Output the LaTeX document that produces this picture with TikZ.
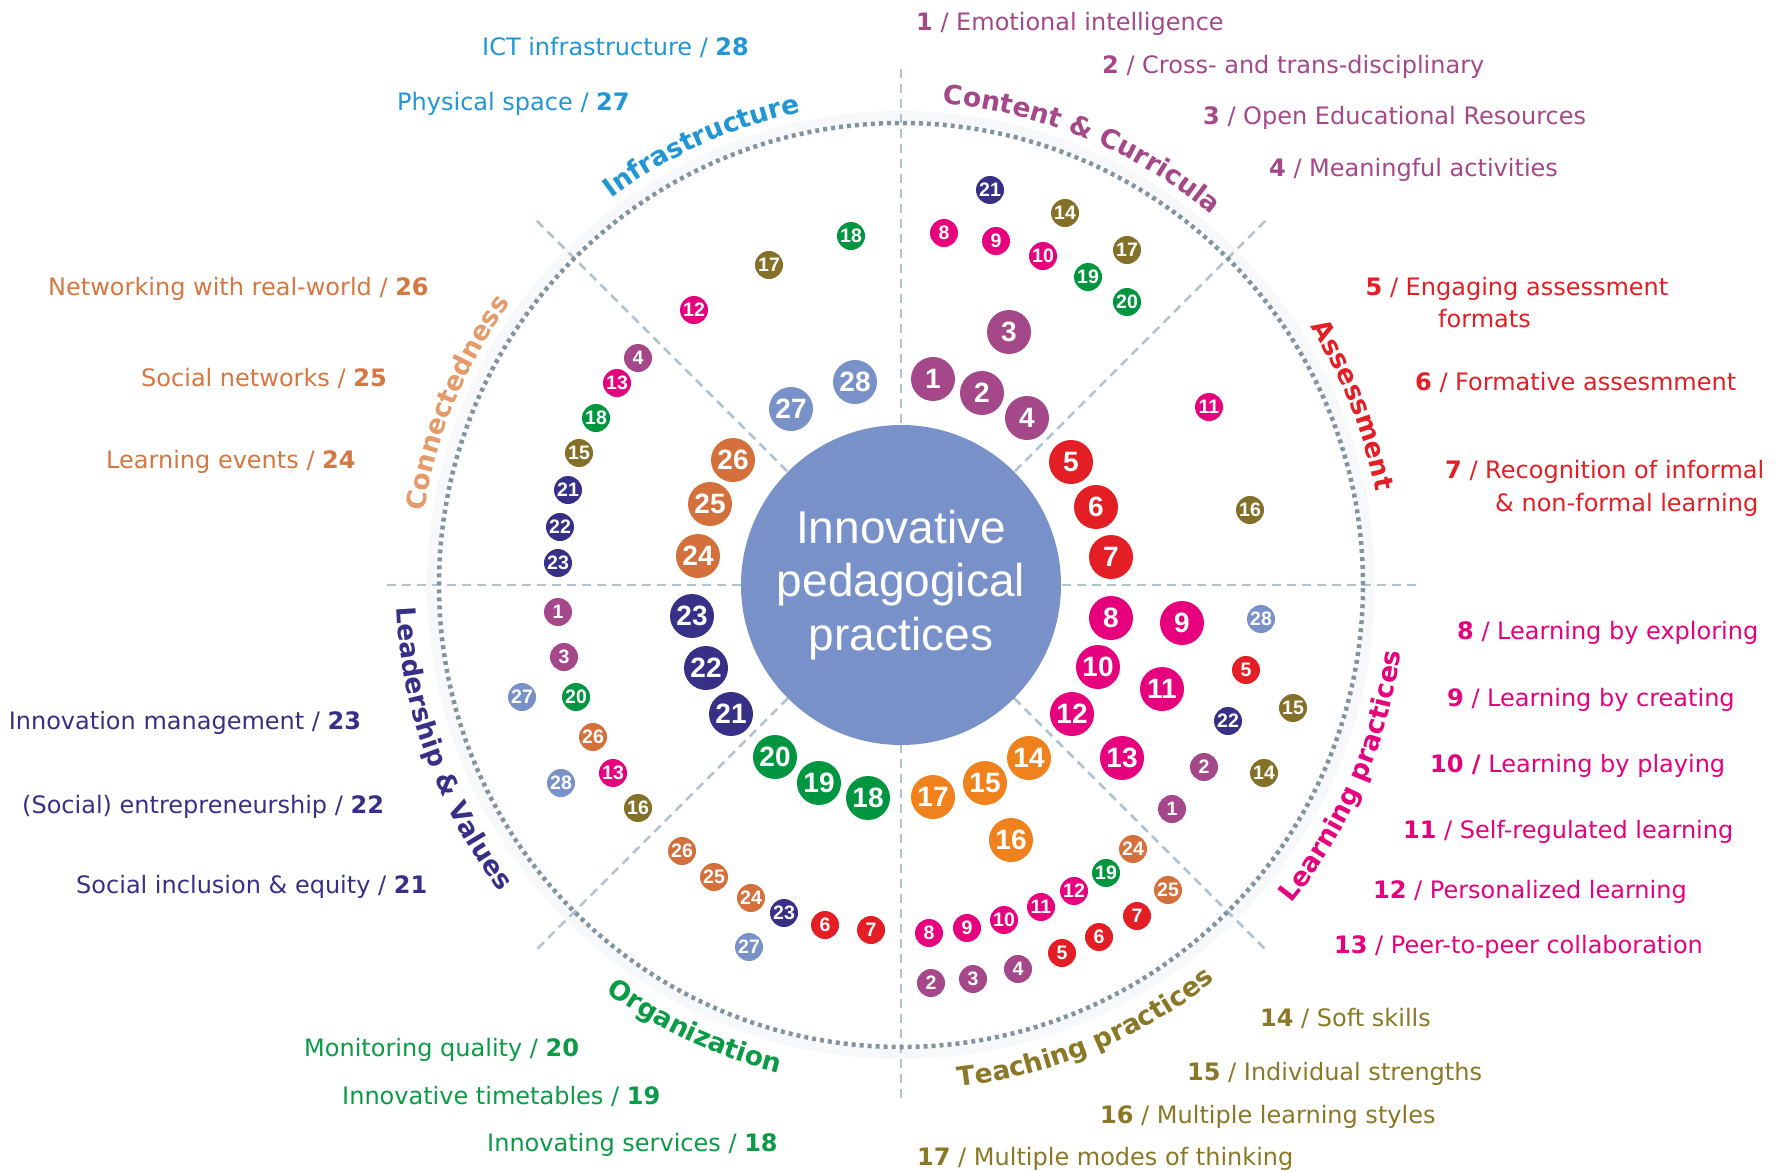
\documentclass[tikz,border=0pt]{standalone}
\usepackage{fontspec}
\setmainfont{DejaVu Sans}
\newfontfamily\numfont{Liberation Sans}
\newfontfamily\ctrfont{Liberation Sans}
\usetikzlibrary{decorations.text}

\definecolor{cInfra}{RGB}{32,150,212}
\definecolor{cConn}{RGB}{214,118,64}
\definecolor{cConnArc}{RGB}{228,155,105}
\definecolor{cCont}{RGB}{165,72,138}
\definecolor{cAss}{RGB}{227,30,36}
\definecolor{cLearn}{RGB}{230,0,126}
\definecolor{cTeach}{RGB}{138,120,38}
\definecolor{cOrg}{RGB}{10,155,70}
\definecolor{cLead}{RGB}{55,48,135}
\definecolor{cPeri}{RGB}{120,145,200}
\definecolor{cOrange}{RGB}{240,130,30}
\definecolor{cBrown}{RGB}{212,112,60}
\definecolor{cOlive}{RGB}{132,112,40}
\definecolor{cGreen}{RGB}{0,150,64}
\definecolor{cDots}{RGB}{128,148,162}
\definecolor{cSect}{RGB}{175,195,210}
\definecolor{cBand}{RGB}{247,248,249}

\newcommand\arcfont{\bfseries\fontsize{26.5}{26.5}\selectfont}

\tikzset{
  sm/.style={circle, inner sep=0pt, minimum size=28pt, text=white,
    font=\numfont\bfseries\fontsize{19.5}{19.5}\selectfont},
  lg/.style={circle, inner sep=0pt, minimum size=44pt, text=white,
    font=\numfont\bfseries\fontsize{28}{28}\selectfont},
  lbl/.style={anchor=base west, inner sep=0pt, font=\fontsize{24}{28}\selectfont},
  sectline/.style={draw=cSect, line width=2.5pt, dash pattern=on 9pt off 6pt},
}

\begin{document}
\begin{tikzpicture}[x=1pt,y=-1pt]
\useasboundingbox (0,0) rectangle (1783,1170);
\fill[white] (0,0) rectangle (1783,1170);

% faint band and sector lines
\draw[cBand, line width=10pt] (901,585) circle[radius=469pt];
\draw[sectline] (901,69) -- (901,1102);
\draw[sectline] (387,585) -- (1420,585);
\draw[sectline] (536.8,220.8) -- (1265.2,949.2);
\draw[sectline] (1265.2,220.8) -- (536.8,949.2);
% dotted circle
\draw[cDots, line width=4.5pt, dash pattern=on 4pt off 4pt] (901,585) circle[radius=462pt];

% centre
\node[circle, fill=cPeri, minimum size=320pt, inner sep=0pt, align=center, text=white,
  font=\ctrfont\fontsize{46}{53.5}\selectfont] (ctr) at (901,585) {Innovative\\pedagogical\\practices};

% sector titles along arcs
\begin{scope}[shift={(901,585)}, y=1pt]
\path[decorate, decoration={text along path, text align=center,
  text={|\arcfont\color{cInfra}|Infrastructure}}]
  (144.4:483) arc[start angle=144.4, end angle=84.4, radius=483pt];
\path[decorate, decoration={text along path, text align=center,
  text={|\arcfont\color{cCont}|Content {\&} Curricula}}]
  (97.5:483) arc[start angle=97.5, end angle=37.5, radius=483pt];
\path[decorate, decoration={text along path, text align=center,
  text={|\arcfont\color{cAss}|Assessment}}]
  (51.7:484) arc[start angle=51.7, end angle=-8.3, radius=484pt];
\path[decorate, decoration={text along path, text align=center,
  text={|\arcfont\color{cConnArc}|Connectedness}}]
  (187.7:482) arc[start angle=187.7, end angle=127.7, radius=482pt];
\path[decorate, decoration={text along path, text align=center,
  text={|\arcfont\color{cLead}|Leadership {\&} Values}}]
  (170:505) arc[start angle=170, end angle=230, radius=505pt];
\path[decorate, decoration={text along path, text align=center,
  text={|\arcfont\color{cOrg}|Organization}}]
  (215:503) arc[start angle=215, end angle=275, radius=503pt];
\path[decorate, decoration={text along path, text align=center,
  text={|\arcfont\color{cTeach}|Teaching practices}}]
  (262.5:505) arc[start angle=262.5, end angle=322.5, radius=505pt];
\path[decorate, decoration={text along path, text align=center,
  text={|\arcfont\color{cLearn}|Learning practices}}]
  (306.6:504) arc[start angle=306.6, end angle=366.6, radius=504pt];
\end{scope}

% Infrastructure sector
\node[sm, fill=cGreen] (i18) at (851,236) {18};
\node[sm, fill=cOlive] (i17) at (769,265) {17};
\node[sm, fill=cLearn] (i12) at (694,310) {12};
\node[lg, fill=cPeri] (i28) at (855,382) {28};
\node[lg, fill=cPeri] (i27) at (791,409) {27};

% Connectedness sector
\node[sm, fill=cCont] (c4) at (638,358) {4};
\node[sm, fill=cLearn] (c13) at (617,383) {13};
\node[sm, fill=cGreen] (c18) at (596,418) {18};
\node[sm, fill=cOlive] (c15) at (579,453) {15};
\node[sm, fill=cLead] (c21) at (568,490) {21};
\node[sm, fill=cLead] (c22) at (560,527) {22};
\node[sm, fill=cLead] (c23) at (558,563) {23};
\node[lg, fill=cBrown] (c26) at (733,460) {26};
\node[lg, fill=cBrown] (c25) at (710,504) {25};
\node[lg, fill=cBrown] (c24) at (698,556) {24};

% Content sector
\node[sm, fill=cLead] (k21) at (990,190) {21};
\node[sm, fill=cOlive] (k14) at (1065,213) {14};
\node[sm, fill=cLearn] (k8) at (944,233) {8};
\node[sm, fill=cLearn] (k9) at (996,241) {9};
\node[sm, fill=cLearn] (k10) at (1043,256) {10};
\node[sm, fill=cOlive] (k17) at (1127,250) {17};
\node[sm, fill=cGreen] (k19) at (1088,277) {19};
\node[sm, fill=cGreen] (k20) at (1127,302) {20};
\node[lg, fill=cCont] (k3) at (1009,332) {3};
\node[lg, fill=cCont] (k1) at (933,379) {1};
\node[lg, fill=cCont] (k2) at (982,393) {2};
\node[lg, fill=cCont] (k4) at (1027,418) {4};

% Assessment sector
\node[lg, fill=cAss] (a5) at (1071,462) {5};
\node[lg, fill=cAss] (a6) at (1096,507) {6};
\node[lg, fill=cAss] (a7) at (1111,557) {7};
\node[sm, fill=cLearn] (a11) at (1209,407) {11};
\node[sm, fill=cOlive] (a16) at (1250,510) {16};

% Learning practices sector
\node[lg, fill=cLearn] (p8) at (1111,618) {8};
\node[lg, fill=cLearn] (p9) at (1182,623) {9};
\node[lg, fill=cLearn] (p10) at (1098,667) {10};
\node[lg, fill=cLearn] (p11) at (1162,689) {11};
\node[lg, fill=cLearn] (p12) at (1072,714) {12};
\node[lg, fill=cLearn] (p13) at (1122,758) {13};
\node[sm, fill=cPeri] (p28) at (1261,619) {28};
\node[sm, fill=cAss] (p5) at (1246,670) {5};
\node[sm, fill=cOlive] (p15) at (1293,708) {15};
\node[sm, fill=cLead] (p22) at (1228,721) {22};
\node[sm, fill=cCont] (p2) at (1204,767) {2};
\node[sm, fill=cOlive] (p14) at (1264,773) {14};
\node[sm, fill=cCont] (p1) at (1172,809) {1};

% Teaching practices sector
\node[lg, fill=cOrange] (t14) at (1029,758) {14};
\node[lg, fill=cOrange] (t15) at (985,783) {15};
\node[lg, fill=cOrange] (t17) at (933,797) {17};
\node[lg, fill=cOrange] (t16) at (1011,840) {16};
\node[sm, fill=cBrown] (t24) at (1133,849) {24};
\node[sm, fill=cGreen] (t19) at (1106,873) {19};
\node[sm, fill=cLearn] (t12) at (1074,891) {12};
\node[sm, fill=cLearn] (t11) at (1041,907) {11};
\node[sm, fill=cLearn] (t10) at (1004,920) {10};
\node[sm, fill=cLearn] (t9) at (967,928) {9};
\node[sm, fill=cLearn] (t8) at (929,933) {8};
\node[sm, fill=cBrown] (t25) at (1168,890) {25};
\node[sm, fill=cAss] (t7) at (1137,916) {7};
\node[sm, fill=cAss] (t6) at (1099,937) {6};
\node[sm, fill=cAss] (t5) at (1062,953) {5};
\node[sm, fill=cCont] (t4) at (1018,969) {4};
\node[sm, fill=cCont] (t3) at (973,979) {3};
\node[sm, fill=cCont] (t2) at (931,983) {2};

% Organization sector
\node[lg, fill=cGreen] (o20) at (775,757) {20};
\node[lg, fill=cGreen] (o19) at (819,783) {19};
\node[lg, fill=cGreen] (o18) at (868,798) {18};
\node[sm, fill=cBrown] (o26) at (682,851) {26};
\node[sm, fill=cBrown] (o25) at (714,877) {25};
\node[sm, fill=cBrown] (o24) at (751,898) {24};
\node[sm, fill=cLead] (o23) at (784,913) {23};
\node[sm, fill=cAss] (o6) at (825,925) {6};
\node[sm, fill=cAss] (o7) at (871,930) {7};
\node[sm, fill=cPeri] (o27) at (749,947) {27};

% Leadership sector
\node[lg, fill=cLead] (v23) at (692,616) {23};
\node[lg, fill=cLead] (v22) at (706,668) {22};
\node[lg, fill=cLead] (v21) at (731,714) {21};
\node[sm, fill=cCont] (v1) at (558,612) {1};
\node[sm, fill=cCont] (v3) at (564,657) {3};
\node[sm, fill=cPeri] (v27) at (522,697) {27};
\node[sm, fill=cGreen] (v20) at (576,697) {20};
\node[sm, fill=cBrown] (v26) at (593,737) {26};
\node[sm, fill=cLearn] (v13) at (613,773) {13};
\node[sm, fill=cPeri] (v28) at (561,783) {28};
\node[sm, fill=cOlive] (v16) at (638,808) {16};

% outer labels
\node[lbl, text=cInfra] (l28) at (482,55.5) {ICT infrastructure / \textbf{28}};
\node[lbl, text=cInfra] (l27) at (397,110) {Physical space / \textbf{27}};
\node[lbl, text=cConn] (l26) at (48,295) {Networking with real-world / \textbf{26}};
\node[lbl, text=cConn] (l25) at (141,386.5) {Social networks / \textbf{25}};
\node[lbl, text=cConn] (l24) at (106,468) {Learning events / \textbf{24}};
\node[lbl, text=cLead] (l23) at (8.6,729) {Innovation management / \textbf{23}};
\node[lbl, text=cLead] (l22) at (22,813) {(Social) entrepreneurship / \textbf{22}};
\node[lbl, text=cLead] (l21) at (76,893) {Social inclusion \& equity / \textbf{21}};
\node[lbl, text=cOrg] (l20) at (304,1056) {Monitoring quality / \textbf{20}};
\node[lbl, text=cOrg] (l19) at (342,1104) {Innovative timetables / \textbf{19}};
\node[lbl, text=cOrg] (l18) at (487,1151) {Innovating services / \textbf{18}};

\node[lbl, text=cCont] (l1) at (916,30) {\textbf{1} / Emotional intelligence};
\node[lbl, text=cCont] (l2) at (1102,73.5) {\textbf{2} / Cross- and trans-disciplinary};
\node[lbl, text=cCont] (l3) at (1203,124) {\textbf{3} / Open Educational Resources};
\node[lbl, text=cCont] (l4) at (1269,176) {\textbf{4} / Meaningful activities};
\node[lbl, text=cAss] (l5) at (1365.5,295) {\textbf{5} / Engaging assessment};
\node[lbl, text=cAss] (l5b) at (1438,327) {formats};
\node[lbl, text=cAss] (l6) at (1415,390) {\textbf{6} / Formative assesmment};
\node[lbl, text=cAss] (l7) at (1445,478) {\textbf{7} / Recognition of informal};
\node[lbl, text=cAss] (l7b) at (1495,511) {\& non-formal learning};
\node[lbl, text=cLearn] (l8) at (1457,639) {\textbf{8} / Learning by exploring};
\node[lbl, text=cLearn] (l9) at (1447,706) {\textbf{9} / Learning by creating};
\node[lbl, text=cLearn] (l10) at (1430,772) {\textbf{10 /} Learning by playing};
\node[lbl, text=cLearn] (l11) at (1403,838) {\textbf{11} / Self-regulated learning};
\node[lbl, text=cLearn] (l12) at (1373,898) {\textbf{12} / Personalized learning};
\node[lbl, text=cLearn] (l13) at (1334,953) {\textbf{13} / Peer-to-peer collaboration};
\node[lbl, text=cTeach] (l14) at (1260,1026) {\textbf{14} / Soft skills};
\node[lbl, text=cTeach] (l15) at (1187,1080) {\textbf{15} / Individual strengths};
\node[lbl, text=cTeach] (l16) at (1100,1123) {\textbf{16} / Multiple learning styles};
\node[lbl, text=cTeach] (l17) at (917,1165) {\textbf{17} / Multiple modes of thinking};
\end{tikzpicture}
\end{document}
